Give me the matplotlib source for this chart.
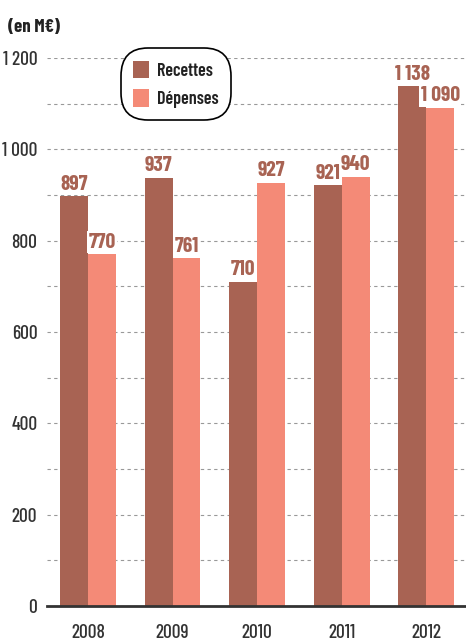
import matplotlib.pyplot as plt
import numpy as np

years = ["2008", "2009", "2010", "2011", "2012"]
recettes = [897, 937, 710, 921, 1138]
depenses = [770, 761, 927, 940, 1090]
y_ticks = [0, 200, 400, 600, 800, 1000, 1200]

c_rec = "#A86353"
c_dep = "#F48A77"

plt.rcParams["font.family"] = ["Barlow Condensed", "DejaVu Sans"]


def fmt(v):
    return f"{v:,}".replace(",", " ")


fig = plt.figure(figsize=(4.66, 6.41), dpi=100)
ax = fig.add_axes([47 / 466, 35 / 641, 419 / 466, 548 / 641])

x = np.arange(len(years))
w = 0.33
b1 = ax.bar(x - w / 2, recettes, w, color=c_rec, label="Recettes", zorder=2)
b2 = ax.bar(x + w / 2, depenses, w, color=c_dep, label="Dépenses", zorder=2)

for bars, vals in ((b1, recettes), (b2, depenses)):
    for b, v in zip(bars, vals):
        ax.annotate(fmt(v), (b.get_x() + b.get_width() / 2, v),
                    xytext=(0, 2), textcoords="offset points",
                    ha="center", va="bottom", fontsize=15.5, fontweight="bold",
                    color=c_rec, zorder=3,
                    bbox=dict(facecolor="white", edgecolor="none", pad=1))

ax.set_xlim(-0.485, 4.47)
ax.set_ylim(0, 1200)
ax.set_yticks(y_ticks)
ax.set_yticklabels([fmt(v) for v in y_ticks], fontsize=14, fontweight=500,
                   color="#333333")
ax.set_yticks(np.arange(100, 1200, 200), minor=True)
ax.set_xticks(x)
ax.set_xticklabels(years, fontsize=14, fontweight=500, color="#333333")
ax.tick_params(axis="both", which="both", length=0)
ax.tick_params(axis="x", pad=13)
ax.tick_params(axis="y", pad=7)

ax.grid(axis="y", which="both", linestyle=(0, (3, 3)), color="#999999",
        linewidth=0.8, zorder=0)
ax.set_axisbelow(True)
for s in ("top", "right", "left"):
    ax.spines[s].set_visible(False)
ax.spines["bottom"].set_color("#333333")
ax.spines["bottom"].set_linewidth(2)
ax.spines["bottom"].set_zorder(4)

leg = ax.legend(loc="upper left", bbox_to_anchor=(0.16, 1.03),
                frameon=True, fancybox=True,
                prop={"family": ["Barlow Condensed", "DejaVu Sans"],
                      "weight": 600, "size": 13},
                handlelength=0.9, handleheight=1.15, handletextpad=0.45,
                labelspacing=0.5, borderpad=0.55)
frame = leg.get_frame()
frame.set_edgecolor("black")
frame.set_linewidth(1.2)
frame.set_facecolor("white")
frame.set_alpha(1)
frame.set_boxstyle("round,pad=0.12,rounding_size=1.5")
for t in leg.get_texts():
    t.set_color("#222222")
leg.set_zorder(5)

fig.text(8 / 466, 1 - 28 / 641, "(en M€)", fontsize=13.5, fontweight="bold",
         color="#222222", va="center", ha="left")

fig.savefig("out.png", dpi=100)
